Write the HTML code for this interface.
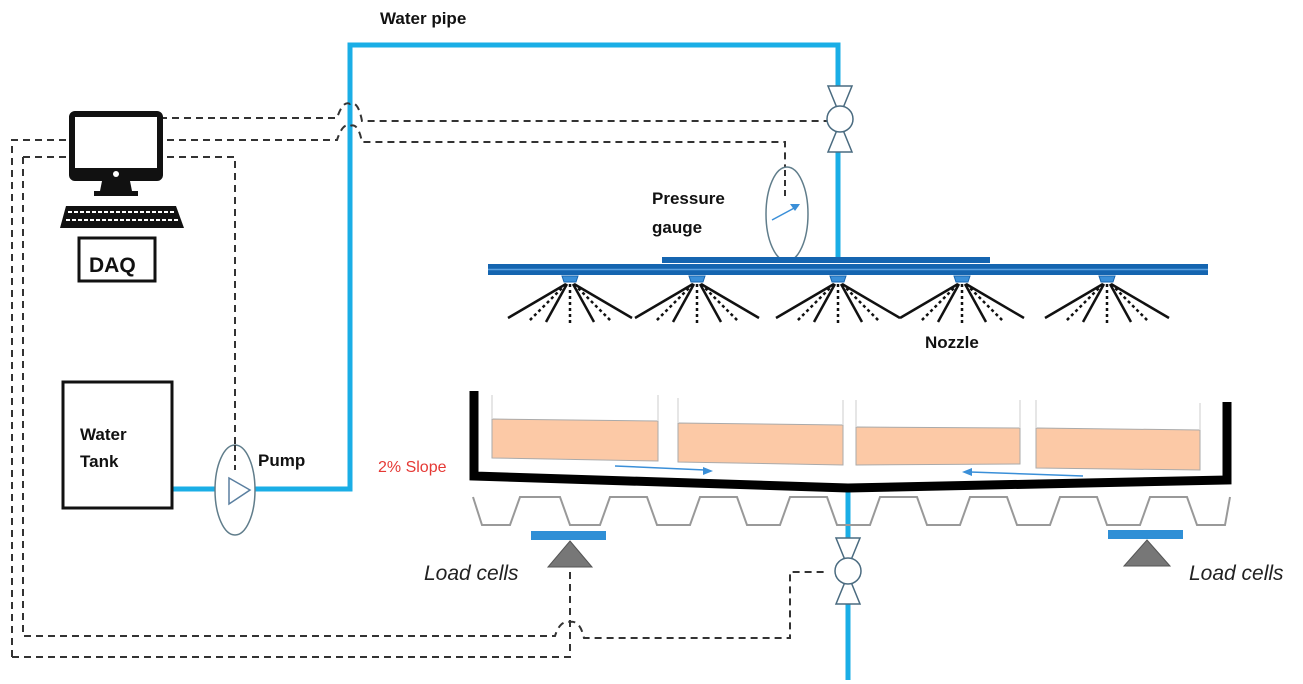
<!DOCTYPE html>
<html><head><meta charset="utf-8"><style>
html,body{margin:0;padding:0;background:#fff;}
svg{display:block;}
text{font-family:"Liberation Sans",sans-serif;}
</style></head><body>
<svg width="1303" height="684" viewBox="0 0 1303 684" xmlns="http://www.w3.org/2000/svg">
<defs>
<g id="nz">
 <path d="M-8,276 h16 l-2,6 h-12 z" fill="#3a8fd8" stroke="#1565b0" stroke-width="1"/>
 <g stroke="#111" stroke-width="2.5" fill="none">
  <line x1="-4" y1="284" x2="-62" y2="318"/>
  <line x1="4" y1="284" x2="62" y2="318"/>
  <line x1="-3" y1="284" x2="-24" y2="322"/>
  <line x1="3" y1="284" x2="24" y2="322"/>
 </g>
 <g stroke="#111" stroke-width="2.5" stroke-dasharray="3,3" fill="none">
  <line x1="-4" y1="284" x2="-42" y2="322"/>
  <line x1="4" y1="284" x2="42" y2="322"/>
  <line x1="0" y1="284" x2="0" y2="324"/>
 </g>
</g>
<g id="valve" fill="#fff" stroke="#4a6b80" stroke-width="1.5">
 <path d="M-12,-33 h24 l-9,22 h-6 z"/>
 <path d="M-12,33 h24 l-9,-22 h-6 z"/>
 <circle cx="0" cy="0" r="13"/>
</g>
</defs>

<!-- water pipe -->
<polyline points="172,489 350,489 350,45 838,45 838,262" fill="none" stroke="#1aaee6" stroke-width="5"/>
<line x1="848" y1="488" x2="848" y2="680" stroke="#1aaee6" stroke-width="5"/>

<!-- dashed signal lines -->
<g fill="none" stroke="#333" stroke-width="2" stroke-dasharray="7,5">
 <path d="M160,118 H337 Q343,100 350,104 Q358,100 362,121 H828"/>
 <path d="M12,657 V140 H337 Q343,122 350,126 Q358,122 362,142 H785 V170"/>
 <path d="M23,157 H235 V452"/>
 <path d="M23,157 V636 H555 Q560,620 570,622 Q580,620 584,638 H790 V572 H828"/>
 <path d="M12,657 H570 V567"/>
</g>

<!-- computer -->
<rect x="72" y="114" width="88" height="64" rx="3" fill="#fff" stroke="#111" stroke-width="6"/>
<rect x="72" y="168" width="88" height="12" fill="#111"/>
<circle cx="116" cy="174" r="3" fill="#fff"/>
<path d="M102,181 h28 l2,10 h6 v5 h-44 v-5 h6 z" fill="#111"/>
<path d="M66,206 h110 l8,22 h-124 z" fill="#111"/>
<g stroke="#fff" stroke-width="2" stroke-dasharray="4,2">
 <line x1="68" y1="212" x2="174" y2="212"/>
 <line x1="66" y1="220" x2="178" y2="220"/>
</g>
<rect x="79" y="238" width="76" height="43" fill="#fff" stroke="#111" stroke-width="3"/>
<text x="89" y="272" font-size="21" font-weight="bold" fill="#111">DAQ</text>

<!-- water tank -->
<rect x="63" y="382" width="109" height="126" fill="#fff" stroke="#111" stroke-width="3"/>
<text x="80" y="440" font-size="17" font-weight="bold" fill="#111">Water</text>
<text x="80" y="467" font-size="17" font-weight="bold" fill="#111">Tank</text>

<!-- pump -->
<ellipse cx="235" cy="490" rx="20" ry="45" fill="#fff" stroke="#607d8b" stroke-width="1.5"/>
<line x1="235" y1="445" x2="235" y2="470" stroke="#333" stroke-width="2" stroke-dasharray="6,4"/>
<path d="M229,478 L250,490 L229,504 Z" fill="none" stroke="#5a7fa0" stroke-width="1.5"/>
<text x="258" y="466" font-size="17" font-weight="bold" fill="#111">Pump</text>

<text x="380" y="24" font-size="17" font-weight="bold" fill="#111">Water pipe</text>

<!-- valves -->
<g transform="translate(840,119)"><use href="#valve"/></g>
<g transform="translate(848,571)"><use href="#valve"/></g>

<!-- pressure gauge -->
<ellipse cx="787" cy="214" rx="21" ry="47" fill="#fff" stroke="#607d8b" stroke-width="1.5"/>
<line x1="785" y1="170" x2="785" y2="196" stroke="#333" stroke-width="2" stroke-dasharray="6,4"/>
<line x1="772" y1="220" x2="798" y2="206" stroke="#3a8fd8" stroke-width="1.5"/>
<path d="M800,204 l-10,0 l5,7 z" fill="#3a8fd8"/>
<text x="652" y="204" font-size="17" font-weight="bold" fill="#111">Pressure</text>
<text x="652" y="233" font-size="17" font-weight="bold" fill="#111">gauge</text>

<!-- header pipes -->
<rect x="662" y="257" width="328" height="6" fill="#1565b0"/>
<rect x="488" y="264" width="720" height="11" fill="#1565b0"/>
<line x1="488" y1="269.5" x2="1208" y2="269.5" stroke="#5aa0e0" stroke-width="1.5"/>

<use href="#nz" x="570"/>
<use href="#nz" x="697"/>
<use href="#nz" x="838"/>
<use href="#nz" x="962"/>
<use href="#nz" x="1107"/>
<text x="925" y="348" font-size="17" font-weight="bold" fill="#111">Nozzle</text>

<!-- soil blocks -->
<g stroke="#aaa" stroke-width="1" fill="#fcc9a6">
 <polygon points="492,419 658,421 658,461 492,458"/>
 <polygon points="678,423 843,425 843,465 678,462"/>
 <polygon points="856,427 1020,428 1020,464 856,465"/>
 <polygon points="1036,428 1200,430 1200,470 1036,468"/>
</g>
<g stroke="#ddd" stroke-width="1.5">
 <line x1="492" y1="395" x2="492" y2="419"/><line x1="658" y1="395" x2="658" y2="421"/>
 <line x1="678" y1="398" x2="678" y2="423"/><line x1="843" y1="400" x2="843" y2="425"/>
 <line x1="856" y1="400" x2="856" y2="427"/><line x1="1020" y1="400" x2="1020" y2="428"/>
 <line x1="1036" y1="400" x2="1036" y2="428"/><line x1="1200" y1="403" x2="1200" y2="430"/>
</g>
<!-- flow arrows -->
<line x1="615" y1="466" x2="705" y2="470" stroke="#3a8fd8" stroke-width="1.5"/>
<path d="M713,471 l-10,-4 l0,8 z" fill="#3a8fd8"/>
<line x1="1083" y1="476" x2="970" y2="472" stroke="#3a8fd8" stroke-width="1.5"/>
<path d="M962,472 l10,-4 l0,8 z" fill="#3a8fd8"/>

<!-- tray -->
<path d="M474,391 V476 L848,488 L1227,480 V402" fill="none" stroke="#000" stroke-width="9" stroke-linejoin="miter"/>
<text x="378" y="472" font-size="16" fill="#e53935">2% Slope</text>

<!-- corrugated support -->
<polyline fill="none" stroke="#999" stroke-width="2" points="473,497 482,525 510,525 520,497 560,497 570,525 600,525 610,497 647,497 657,525 690,525 700,497 737,497 747,525 780,525 790,497 827,497 837,525 870,525 880,497 917,497 927,525 960,525 970,497 1007,497 1017,525 1050,525 1060,497 1097,497 1107,525 1140,525 1150,497 1187,497 1197,525 1225,525 1230,497"/>

<!-- load cells -->
<rect x="531" y="531" width="75" height="9" fill="#2f8fd6"/>
<path d="M570,541 L592,567 H548 Z" fill="#777" stroke="#555" stroke-width="1"/>
<rect x="1108" y="530" width="75" height="9" fill="#2f8fd6"/>
<path d="M1147,540 L1170,566 H1124 Z" fill="#777" stroke="#555" stroke-width="1"/>
<text x="424" y="580" font-size="21" font-style="italic" fill="#222">Load cells</text>
<text x="1189" y="580" font-size="21" font-style="italic" fill="#222">Load cells</text>
</svg>
</body></html>
